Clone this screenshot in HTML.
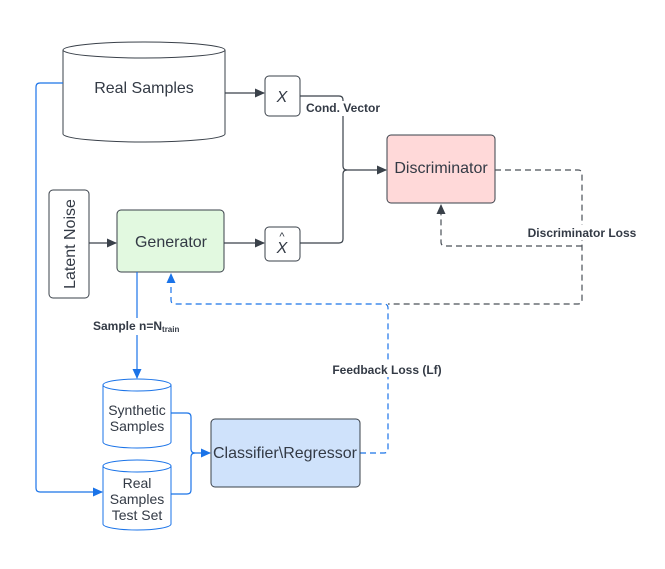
<!DOCTYPE html>
<html><head><style>
html,body{margin:0;padding:0;background:#fff}
svg{display:block}
text{font-family:"Liberation Sans",sans-serif;fill:#333a45}
</style></head><body>
<svg width="665" height="569" viewBox="0 0 665 569" xmlns="http://www.w3.org/2000/svg">
<defs>
<marker id="ag" markerWidth="10" markerHeight="10" refX="9" refY="5" orient="auto" markerUnits="userSpaceOnUse"><path d="M0,0.5 L10,5 L0,9.5 Z" fill="#3a414a"/></marker>
<marker id="ab" markerWidth="10" markerHeight="10" refX="9" refY="5" orient="auto" markerUnits="userSpaceOnUse"><path d="M0,0.5 L10,5 L0,9.5 Z" fill="#1a73e8"/></marker>
</defs>
<rect width="665" height="569" fill="#fff"/>

<path d="M63,50 L63,134 A81,8 0 0 0 225,134 L225,50" fill="#fff" stroke="#3a414a" stroke-width="1"/>
<ellipse cx="144" cy="50" rx="81" ry="8" fill="#fff" stroke="#3a414a" stroke-width="1"/>
<text x="144" y="93" font-size="16" text-anchor="middle">Real Samples</text>

<rect x="265" y="76" width="35" height="40" rx="4" fill="#fff" stroke="#3a414a"/>
<text x="282" y="102" font-size="16" font-style="italic" text-anchor="middle">X</text>
<line x1="225" y1="93" x2="264" y2="93" stroke="#3a414a" stroke-width="1.2" marker-end="url(#ag)"/>

<rect x="265" y="227" width="35" height="34" rx="4" fill="#fff" stroke="#3a414a"/>
<text x="282" y="253" font-size="16" font-style="italic" text-anchor="middle">X</text>
<text x="282" y="240" font-size="11" text-anchor="middle">^</text>

<rect x="387" y="135" width="108" height="68" rx="4" fill="#ffd9d9" stroke="#3a414a"/>
<text x="441" y="173" font-size="16" text-anchor="middle">Discriminator</text>

<path d="M300,96 L339,96 Q343,96 343,100 L343,166 Q343,170 347,170 L386,170" fill="none" stroke="#3a414a" stroke-width="1.2" marker-end="url(#ag)"/>
<path d="M300,243 L339,243 Q343,243 343,239 L343,174 Q343,170 347,170" fill="none" stroke="#3a414a" stroke-width="1.2"/>
<rect x="303" y="101" width="80" height="15" fill="#fff"/>
<text x="343" y="112" font-size="12" font-weight="bold" text-anchor="middle">Cond. Vector</text>

<rect x="49" y="190" width="40" height="108" rx="4" fill="#fff" stroke="#3a414a"/>
<text transform="translate(75,244) rotate(-90)" font-size="16" text-anchor="middle">Latent Noise</text>
<line x1="89" y1="243" x2="116" y2="243" stroke="#3a414a" stroke-width="1.2" marker-end="url(#ag)"/>

<rect x="117" y="210" width="107" height="62" rx="4" fill="#e2f9e0" stroke="#3a414a"/>
<text x="171" y="247" font-size="16" text-anchor="middle">Generator</text>
<line x1="224" y1="243" x2="264" y2="243" stroke="#3a414a" stroke-width="1.2" marker-end="url(#ag)"/>

<path d="M495,170 L578,170 Q582,170 582,174 L582,300 Q582,304 578,304 L388,304" fill="none" stroke="#4a5058" stroke-width="1.2" stroke-dasharray="6,4"/>
<path d="M582,246 L445,246 Q441,246 441,242 L441,205" fill="none" stroke="#4a5058" stroke-width="1.2" stroke-dasharray="6,4" marker-end="url(#ag)"/>
<rect x="526" y="225" width="114" height="15" fill="#fff"/>
<text x="582" y="237" font-size="12" font-weight="bold" text-anchor="middle">Discriminator Loss</text>

<path d="M360,453 L384,453 Q388,453 388,449 L388,308 Q388,304 384,304 L175,304 Q171,304 171,300 L171,274" fill="none" stroke="#1a73e8" stroke-width="1.2" stroke-dasharray="6,4" marker-end="url(#ab)"/>
<rect x="328" y="362" width="118" height="15" fill="#fff"/>
<text x="387" y="374" font-size="12" font-weight="bold" text-anchor="middle">Feedback Loss (Lf)</text>

<line x1="137" y1="272" x2="137" y2="378" stroke="#1a73e8" stroke-width="1.2" marker-end="url(#ab)"/>
<rect x="92" y="318" width="94" height="17" fill="#fff"/>
<text x="93" y="330" font-size="12" font-weight="bold">Sample n=N<tspan font-size="8" dy="2">train</tspan></text>

<path d="M63,83 L40,83 Q36,83 36,87 L36,488 Q36,492 40,492 L102,492" fill="none" stroke="#1a73e8" stroke-width="1.2" marker-end="url(#ab)"/>

<path d="M103,385 L103,442 A34,6 0 0 0 171,442 L171,385" fill="#fff" stroke="#1a73e8"/>
<ellipse cx="137" cy="385" rx="34" ry="6" fill="#fff" stroke="#1a73e8"/>
<text x="137" y="415" font-size="14" text-anchor="middle">Synthetic</text>
<text x="137" y="431" font-size="14" text-anchor="middle">Samples</text>

<path d="M103,466 L103,524 A34,6 0 0 0 171,524 L171,466" fill="#fff" stroke="#1a73e8"/>
<ellipse cx="137" cy="466" rx="34" ry="6" fill="#fff" stroke="#1a73e8"/>
<text x="137" y="488" font-size="14" text-anchor="middle">Real</text>
<text x="137" y="504" font-size="14" text-anchor="middle">Samples</text>
<text x="137" y="520" font-size="14" text-anchor="middle">Test Set</text>

<path d="M171,413 L187,413 Q191,413 191,417 L191,449 Q191,453 195,453 L210,453" fill="none" stroke="#1a73e8" stroke-width="1.2" marker-end="url(#ab)"/>
<path d="M171,494 L187,494 Q191,494 191,490 L191,457 Q191,453 195,453" fill="none" stroke="#1a73e8" stroke-width="1.2"/>

<rect x="211" y="419" width="149" height="68" rx="4" fill="#cfe2fb" stroke="#3a414a"/>
<text x="285" y="458" font-size="16" text-anchor="middle">Classifier\Regressor</text>
</svg>
</body></html>
